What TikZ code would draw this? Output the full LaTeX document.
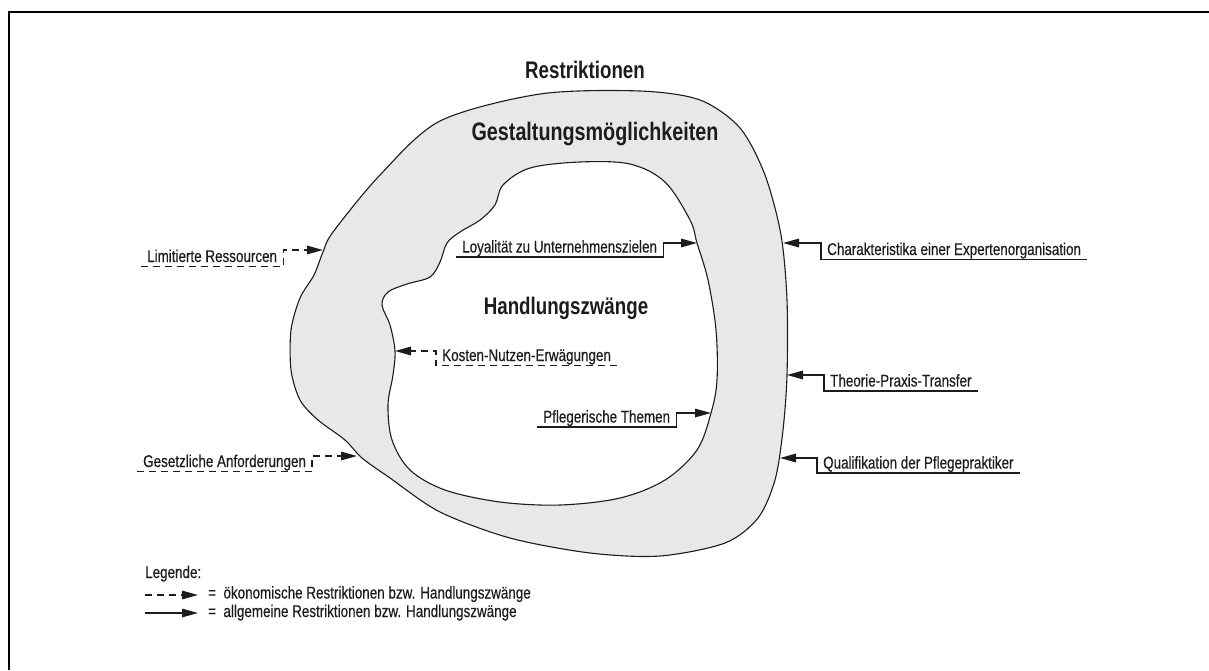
\documentclass[tikz,border=0pt]{standalone}
\usepackage{fontspec}
\setmainfont{Liberation Sans}
\newfontfamily\labelfont[FakeStretch=0.79,FakeBold=0.4]{Liberation Sans}
\newfontfamily\headfont[FakeStretch=0.78]{Liberation Sans Bold}
\usetikzlibrary{arrows.meta}
\definecolor{areagray}{HTML}{E8E8E8}
\definecolor{ink}{HTML}{1C1C1C}

\begin{document}
\begin{tikzpicture}[x=1pt,y=-1pt,
  lab/.style={font=\labelfont\fontsize{17}{17}\selectfont, text=ink,
    inner xsep=6pt, inner ysep=0pt, text height=12pt, text depth=4.5pt, anchor=base west},
  head/.style={font=\headfont\fontsize{#1}{#1}\selectfont, text=ink, inner sep=0pt},
  conn/.style={draw=ink, line width=1.5pt, line join=miter,
    -{Triangle[length=16pt,width=8.5pt]}},
  econ/.style={conn, dash pattern=on 7pt off 5pt},
  rim/.style={draw=ink, line width=1.1pt}
]
\useasboundingbox (0,0) rectangle (1209,670);

% frame
\draw[line width=2pt] (9,670) -- (9,12) -- (1209,12);

% outer region: room for design
\draw[rim, fill=areagray] plot[smooth cycle, tension=0.5] coordinates {
  (440,121) (540,94) (640,91) (700,100) (740,128) (765,175) (781,235)
  (787,300) (787,375) (783,430) (775,480) (758,518) (725,543) (660,556)
  (590,553) (510,538) (440,512) (390,478) (362,458) (345,440) (318,420)
  (300,400) (291,370) (291,330) (300,298) (314,275) (323,252) (333,232)
  (380,175)};

% inner region: constraints to act
\draw[rim, fill=white] plot[smooth cycle, tension=0.55] coordinates {
  (530,168) (580,162) (630,164) (665,182) (690,220) (697,243) (708,280)
  (716,330) (717,380) (711,413) (697,450) (665,480) (620,498) (560,505)
  (500,502) (445,490) (410,470) (392,440) (388,405) (393,375) (395,351)
  (390,325) (382,305) (388,292) (407,284) (430,277) (440,262) (447,243)
  (460,232) (480,220) (495,205) (503,185)};

% headings
\node[head=24] (restr) at (585,70) {Restriktionen};
\node[head=25.3] (gestalt) at (595,134) {Gestaltungsmöglichkeiten};
\node[head=24] (zwang) at (566,308) {Handlungszwänge};

% arrow targets on the outlines
\coordinate (tLim) at (323,250);
\coordinate (tGes) at (357,456);
\coordinate (tLoy) at (697,243);
\coordinate (tKos) at (395,351);
\coordinate (tPfl) at (711,413);
\coordinate (tCha) at (783,243);
\coordinate (tThe) at (787,375);
\coordinate (tQua) at (780,458);

% labels
\node[lab] (lim) at (141,262) {Limitierte Ressourcen};
\node[lab] (ges) at (137,467) {Gesetzliche Anforderungen};
\node[lab] (loy) at (456,252.5) {Loyalität zu Unternehmenszielen};
\node[lab] (kos) at (436,361) {Kosten-Nutzen-Erwägungen};
\node[lab] (pfl) at (537,422.5) {Pflegerische Themen};
\node[lab] (cha) at (821,255) {Charakteristika einer Expertenorganisation};
\node[lab] (the) at (824,386.5) {Theorie-Praxis-Transfer};
\node[lab] (qua) at (817,468.5) {Qualifikation der Pflegepraktiker};

% connectors
\draw[econ] (lim.south west) -- (lim.south east) |- (tLim);
\draw[econ] (ges.south west) -- (ges.south east) |- (tGes);
\draw[conn] (loy.south west) -- (loy.south east) |- (tLoy);
\draw[econ] (kos.south east) -- (kos.south west) |- (tKos);
\draw[conn] (pfl.south west) -- (pfl.south east) |- (tPfl);
\draw[conn] (cha.south east) -- (cha.south west) |- (tCha);
\draw[conn] (the.south east) -- (the.south west) |- (tThe);
\draw[conn] (qua.south east) -- (qua.south west) |- (tQua);

% legend
\node[lab, inner xsep=0pt] (leg) at (145,578) {Legende:};
\coordinate (e1a) at (145,595);
\coordinate (e1b) at (198,595);
\coordinate (e2a) at (145,613);
\coordinate (e2b) at (198,613);
\draw[econ] (e1a) -- (e1b);
\draw[conn] (e2a) -- (e2b);
\node[lab, inner xsep=0pt] (leg1) at (208,598.5) {=\ \ ökonomische Restriktionen bzw. Handlungszwänge};
\node[lab, inner xsep=0pt] (leg2) at (208,617) {=\ \ allgemeine Restriktionen bzw. Handlungszwänge};
\end{tikzpicture}
\end{document}
